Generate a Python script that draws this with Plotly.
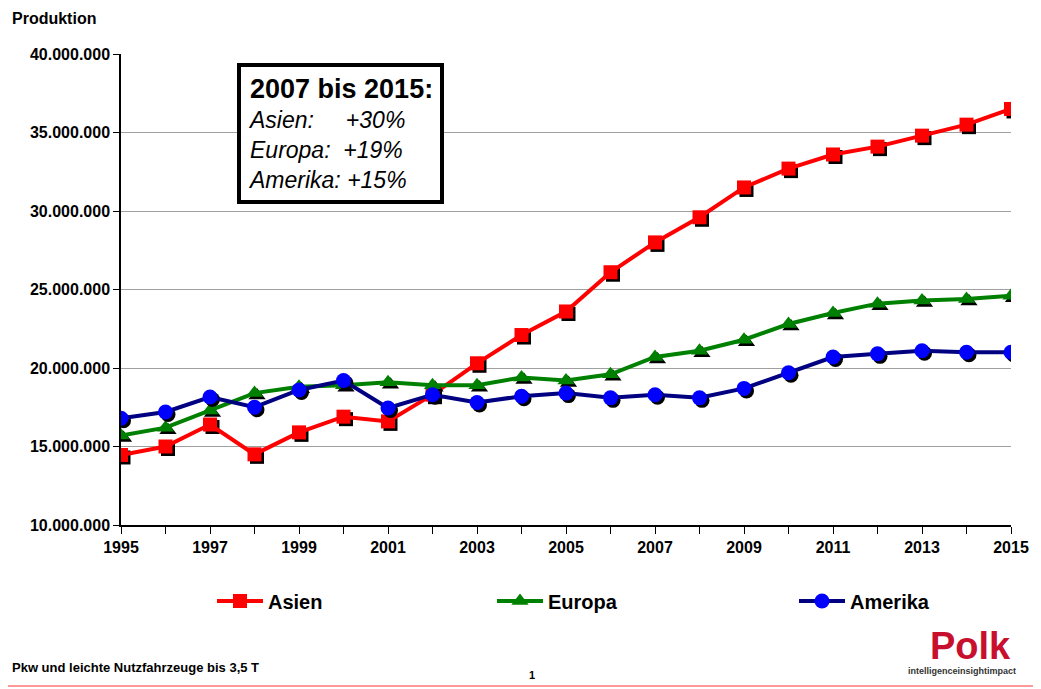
import plotly.graph_objects as go

years = list(range(1995, 2016))
asien = [14.46, 15.0, 16.4, 14.5, 15.9, 16.9, 16.6, 18.3, 20.3, 22.1, 23.6, 26.1,
         28.0, 29.6, 31.5, 32.7, 33.6, 34.1, 34.8, 35.5, 36.5]
europa = [15.7, 16.2, 17.3, 18.4, 18.8, 18.9, 19.1, 18.9, 18.9, 19.4, 19.2, 19.6,
          20.7, 21.1, 21.8, 22.8, 23.5, 24.1, 24.3, 24.4, 24.6]
amerika = [16.8, 17.2, 18.15, 17.5, 18.6, 19.2, 17.45, 18.3, 17.8, 18.2, 18.4, 18.1,
           18.3, 18.1, 18.7, 19.7, 20.7, 20.9, 21.1, 21.0, 21.0]
asien = [v * 1e6 for v in asien]
europa = [v * 1e6 for v in europa]
amerika = [v * 1e6 for v in amerika]

ytickvals = [10e6, 15e6, 20e6, 25e6, 30e6, 35e6, 40e6]
yticktext = ["10.000.000", "15.000.000", "20.000.000", "25.000.000",
             "30.000.000", "35.000.000", "40.000.000"]
xticktext = [str(y) if y % 2 == 1 else "" for y in years]

FONT = "Liberation Sans, Arial, sans-serif"

# plot area in page pixels: x 121..1011, y 54..525
PW, PH = 890, 471

series = [
    ("Asien", asien, "#ff0000", "#ff0000", "square", 14, "legend", (212 - 121) / PW),
    ("Europa", europa, "#008000", "#008000", "triangle-up", 15, "legend2", (492 - 121) / PW),
    ("Amerika", amerika, "#000080", "#0000ff", "circle", 15, "legend3", (794 - 121) / PW),
]

fig = go.Figure()

dx = 2.5 / 44.5
dy = 2.5 / 78.5 * 5e6

for name, vals, lcol, mcol, sym, size, lg, lx in series:
    fig.add_trace(go.Scatter(
        x=[y + dx for y in years], y=[v - dy for v in vals], mode="markers",
        marker=dict(symbol=sym, size=size, color="black"),
        showlegend=False, hoverinfo="skip"))
    fig.add_trace(go.Scatter(
        x=years, y=vals, mode="lines+markers", name=name, legend=lg,
        line=dict(color=lcol, width=4),
        marker=dict(symbol=sym, size=size, color=mcol, line=dict(width=0))))

legend_common = dict(orientation="h", xanchor="left", y=(525 - 601) / PH, yanchor="middle",
                     font=dict(size=20, family=FONT, color="black", weight="bold"),
                     itemwidth=46, bgcolor="rgba(0,0,0,0)")

fig.update_layout(
    width=1033, height=681,
    margin=dict(l=113, r=30, t=46, b=164),
    paper_bgcolor="white", plot_bgcolor="white",
    font=dict(family=FONT, color="black"),
    showlegend=True,
    legend=dict(x=series[0][7], **legend_common),
    legend2=dict(x=series[1][7], **legend_common),
    legend3=dict(x=series[2][7], **legend_common),
    xaxis=dict(range=[1995, 2015], tickvals=years, ticktext=xticktext,
               showgrid=False, zeroline=False, showline=True, linecolor="black",
               linewidth=1.5, ticks="outside", ticklen=7, tickcolor="black",
               tickfont=dict(size=16, family=FONT, weight="bold")),
    yaxis=dict(range=[10e6, 40e6], tickvals=ytickvals, ticktext=yticktext,
               showgrid=True, gridcolor="#a0a0a0", gridwidth=1.2, zeroline=False,
               showline=True, linecolor="black", linewidth=1.5,
               ticks="outside", ticklen=6, tickcolor="black",
               tickfont=dict(size=16, family=FONT, weight="bold")),
)

fig.add_annotation(xref="paper", yref="paper", x=(237 - 121) / PW, y=(525 - 63) / PH,
                   xanchor="left", yanchor="top",
                   text=("<span style='font-size:27px'><b>2007 bis 2015:</b></span><br>"
                         "<i>Asien:     +30%</i><br><i>Europa:  +19%</i><br><i>Amerika: +15%</i>"),
                   align="left", showarrow=False, font=dict(size=23, family=FONT, color="black"),
                   bordercolor="black", borderwidth=4, borderpad=7, bgcolor="white")

fig.add_annotation(xref="paper", yref="paper", x=(10 - 121) / PW, y=(525 - 18) / PH,
                   xanchor="left", yanchor="middle",
                   text="<b>Produktion</b>", showarrow=False, font=dict(size=16, family=FONT, color="black"))
fig.add_annotation(xref="paper", yref="paper", x=(10 - 121) / PW, y=(525 - 667) / PH,
                   xanchor="left", yanchor="middle",
                   text="<b>Pkw und leichte Nutzfahrzeuge bis 3,5 T</b>", showarrow=False,
                   font=dict(size=13, family=FONT, color="black"))
fig.add_annotation(xref="paper", yref="paper", x=(532 - 121) / PW, y=(525 - 675) / PH,
                   xanchor="center", yanchor="middle",
                   text="<b>1</b>", showarrow=False, font=dict(size=11, family=FONT, color="black"))
fig.add_annotation(xref="paper", yref="paper", x=(970 - 121) / PW, y=(525 - 646) / PH,
                   xanchor="center", yanchor="middle",
                   text="<b>Polk</b>", showarrow=False, font=dict(size=38, family=FONT, color="#c8102e"))
fig.add_annotation(xref="paper", yref="paper", x=(962 - 121) / PW, y=(525 - 671) / PH,
                   xanchor="center", yanchor="middle",
                   text="<b>intelligenceinsightimpact</b>", showarrow=False,
                   font=dict(size=9, family=FONT, color="#333333"))

fig.add_shape(type="line", xref="paper", yref="paper", x0=-121 / PW, x1=1 + 30 / PW,
              y0=(525 - 686) / PH, y1=(525 - 686) / PH, line=dict(color="#ff9999", width=2))

fig.write_html("out.html")
